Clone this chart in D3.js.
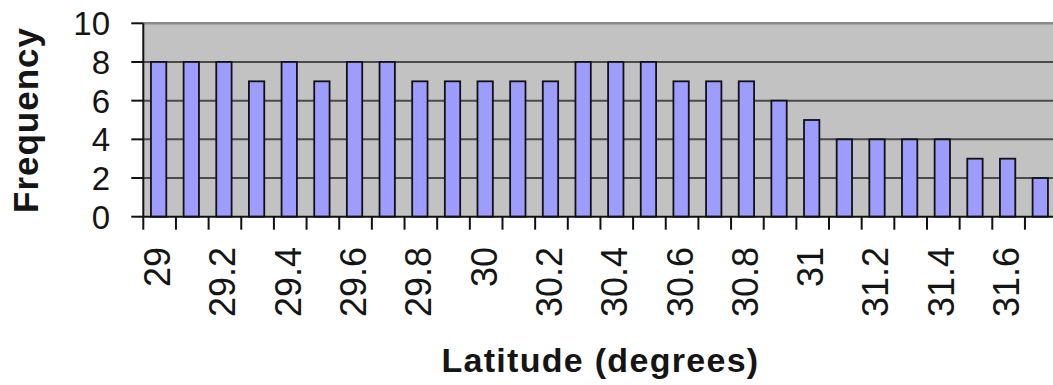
<!DOCTYPE html>
<html>
<head>
<meta charset="utf-8">
<script src="https://cdn.jsdelivr.net/npm/d3@7/dist/d3.min.js"></script>
<style>
  html, body { margin: 0; padding: 0; background: #fff; }
  svg { display: block; font-family: Arial, "Liberation Sans", sans-serif; }
</style>
</head>
<body>
<svg id="chart" width="1053" height="385"></svg>
<script>
// Latitude bins (degrees) and the count of observations in each
const categories = [29.0, 29.1, 29.2, 29.3, 29.4, 29.5, 29.6, 29.7, 29.8, 29.9,
                    30.0, 30.1, 30.2, 30.3, 30.4, 30.5, 30.6, 30.7, 30.8, 30.9,
                    31.0, 31.1, 31.2, 31.3, 31.4, 31.5, 31.6, 31.7];
const frequency  = [8, 8, 8, 7, 8, 7, 8, 8, 7, 7,
                    7, 7, 7, 8, 8, 8, 7, 7, 7, 6,
                    5, 4, 4, 4, 4, 3, 3, 2];
// Category labels printed under every other bin
const xTickLabels = ["29", "29.2", "29.4", "29.6", "29.8", "30", "30.2",
                     "30.4", "30.6", "30.8", "31", "31.2", "31.4", "31.6"];
const yTicks = [0, 2, 4, 6, 8, 10];

const svg = d3.select("#chart");
const W = 1053, H = 385;
const plot = { left: 143.3, right: 1057.6, top: 23.3, bottom: 216.7 };

svg.append("rect").attr("width", W).attr("height", H).attr("fill", "#fff");

const keys = categories.map(d => d.toFixed(1));
const x = d3.scaleBand()
  .domain(keys)
  .range([plot.left, plot.right])
  .paddingInner(0.53)
  .paddingOuter(0.265);
const y = d3.scaleLinear().domain([0, 10]).range([plot.bottom, plot.top]);

// Plot area
svg.append("rect")
  .attr("x", plot.left).attr("y", plot.top)
  .attr("width", plot.right - plot.left)
  .attr("height", plot.bottom - plot.top)
  .attr("fill", "#c2c2c2");

// Horizontal gridlines
svg.append("g").selectAll("line")
  .data(yTicks.filter(d => d > 0))
  .join("line")
  .attr("x1", plot.left).attr("x2", plot.right)
  .attr("y1", d => y(d)).attr("y2", d => y(d))
  .attr("stroke", d => d === 10 ? "#8a8a8a" : "#4a4a4a")
  .attr("stroke-width", d => d === 10 ? 2.5 : 2);

// Bars
svg.append("g").selectAll("rect")
  .data(categories.map((c, i) => ({ key: keys[i], v: frequency[i] })))
  .join("rect")
  .attr("x", d => x(d.key) - 1)
  .attr("y", d => y(d.v))
  .attr("width", x.bandwidth())
  .attr("height", d => y(0) - y(d.v))
  .attr("fill", "#9d9dff")
  .attr("stroke", "#111")
  .attr("stroke-width", 1.8);

// Y axis
const yAxis = svg.append("g");
yAxis.append("line")
  .attr("x1", plot.left).attr("x2", plot.left)
  .attr("y1", plot.top).attr("y2", plot.bottom)
  .attr("stroke", "#111").attr("stroke-width", 2);
yAxis.selectAll("line.tick").data(yTicks).join("line")
  .attr("class", "tick")
  .attr("x1", plot.left - 12).attr("x2", plot.left)
  .attr("y1", d => y(d)).attr("y2", d => y(d))
  .attr("stroke", "#111").attr("stroke-width", 2);
yAxis.selectAll("text").data(yTicks).join("text")
  .attr("x", 110).attr("y", d => y(d))
  .attr("dy", "0.36em")
  .attr("text-anchor", "end")
  .attr("font-size", 33)
  .attr("fill", "#151515")
  .text(d => d);

// X axis: line, tick marks on every bin boundary, rotated labels
const halfGap = (x.step() - x.bandwidth()) / 2;
const boundaries = keys.map(k => x(k) - halfGap).concat([plot.right]);
const xAxis = svg.append("g");
xAxis.append("line")
  .attr("x1", plot.left).attr("x2", plot.right)
  .attr("y1", plot.bottom).attr("y2", plot.bottom)
  .attr("stroke", "#111").attr("stroke-width", 2);
xAxis.selectAll("line.tick").data(boundaries).join("line")
  .attr("class", "tick")
  .attr("x1", d => d).attr("x2", d => d)
  .attr("y1", plot.bottom).attr("y2", plot.bottom + 13)
  .attr("stroke", "#111").attr("stroke-width", 2);

const labelled = xTickLabels.map(t => ({ t, key: (+t).toFixed(1) }));
xAxis.selectAll("text").data(labelled).join("text")
  .attr("transform", d => `translate(${x(d.key) + x.bandwidth() / 2 - 2.5},247) rotate(-90)`)
  .attr("dy", "0.36em")
  .attr("text-anchor", "end")
  .attr("font-size", 36)
  .attr("fill", "#151515")
  .text(d => d.t);

// Axis titles
svg.append("text")
  .attr("x", (plot.left + plot.right) / 2)
  .attr("y", 372)
  .attr("text-anchor", "middle")
  .attr("font-size", 34)
  .attr("font-weight", "bold")
  .attr("letter-spacing", "1.3px")
  .attr("fill", "#151515")
  .text("Latitude (degrees)");

svg.append("text")
  .attr("transform", `translate(38,${(plot.top + plot.bottom) / 2}) rotate(-90)`)
  .attr("text-anchor", "middle")
  .attr("font-size", 35)
  .attr("font-weight", "bold")
  .attr("letter-spacing", "1px")
  .attr("fill", "#151515")
  .text("Frequency");
</script>
</body>
</html>
